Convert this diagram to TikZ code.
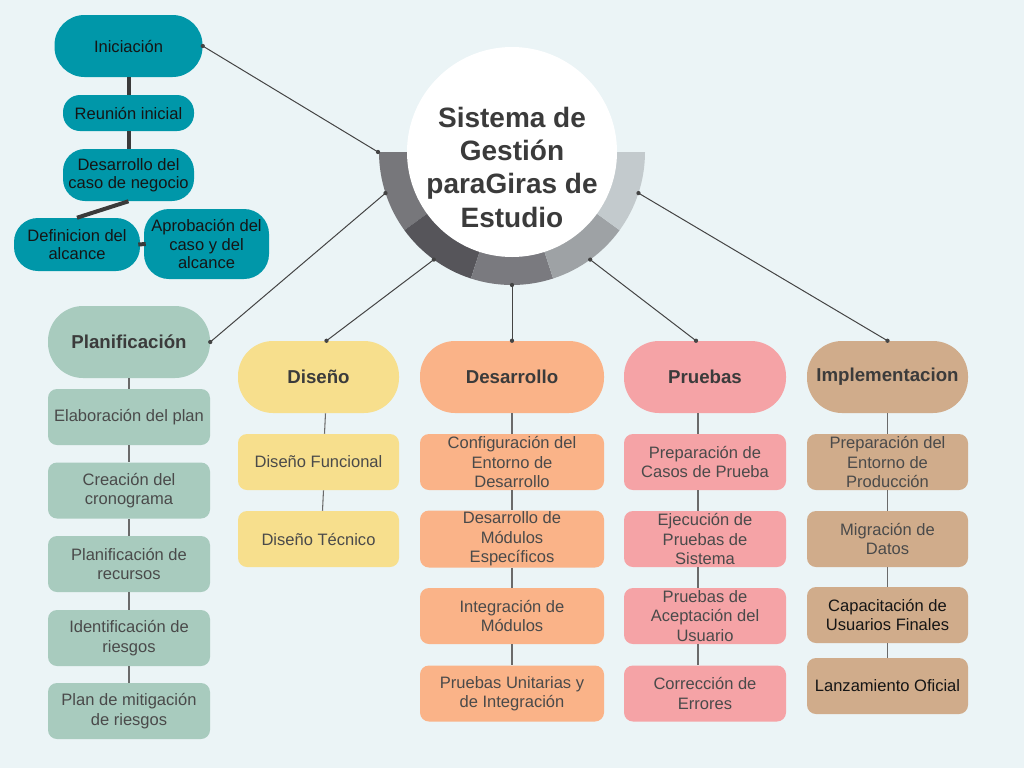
\documentclass[tikz,border=0pt]{standalone}
\usepackage{fontspec}
\setmainfont{Liberation Sans}
\newdimen\pxu \pxu=0.75pt
\definecolor{bg}{HTML}{EBF4F6}
\definecolor{teal}{HTML}{0097A9}
\definecolor{plan}{HTML}{A8CBBE}
\definecolor{dise}{HTML}{F7DF8D}
\definecolor{desa}{HTML}{FAB388}
\definecolor{prue}{HTML}{F5A3A6}
\definecolor{impl}{HTML}{D0AC8B}
\definecolor{segA}{HTML}{77777B}
\definecolor{segB}{HTML}{56555A}
\definecolor{segC}{HTML}{7A7A7F}
\definecolor{segD}{HTML}{9EA2A5}
\definecolor{segE}{HTML}{C3CACD}
\definecolor{txtgray}{HTML}{4A4A4A}
\definecolor{txtdark}{HTML}{151515}
\definecolor{headtxt}{HTML}{3B3B3B}
\definecolor{linec}{HTML}{444444}
\definecolor{subline}{HTML}{6A6A6A}
\definecolor{thick}{HTML}{3A3A3A}
\newcommand\subfont{\fontsize{12.4}{14.6}\selectfont}
\newcommand\tealfont{\fontsize{12.4}{13.8}\selectfont}
\newcommand\headfont{\fontsize{14}{17}\selectfont\bfseries}
\newcommand\titlefont{\fontsize{21}{25}\selectfont\bfseries}
\begin{document}
\begin{tikzpicture}[x=0.75pt,y=-0.75pt,
  tealbox/.style={rectangle, fill=teal, align=center, inner sep=1pt, font=\tealfont, text=txtdark},
  subbox/.style={rectangle, rounded corners=9\pxu, minimum height=56\pxu, align=center, inner sep=1pt, font=\subfont, text=txtgray},
  pill/.style={rectangle, rounded corners=35\pxu, minimum height=72\pxu, align=center, inner sep=1pt, font=\headfont, text=headtxt},
  main/.style={draw=linec, line width=0.75pt},
  enddot/.style={fill=linec},
  sub/.style={draw=subline, line width=0.8pt},
  thickline/.style={draw=thick, line width=3pt}
]
\useasboundingbox (0,0) rectangle (1024,768);
\fill[bg] (0,0) rectangle (1024,768);

% ---- central ring and circle
\coordinate (c) at (512,152);
\fill[segA] (c) -- ++(180:99.75pt) arc[start angle=180,end angle=216,radius=99.75pt] -- cycle;
\fill[segB] (c) -- ++(216:99.75pt) arc[start angle=216,end angle=252,radius=99.75pt] -- cycle;
\fill[segC] (c) -- ++(252:99.75pt) arc[start angle=252,end angle=288,radius=99.75pt] -- cycle;
\fill[segD] (c) -- ++(288:99.75pt) arc[start angle=288,end angle=324,radius=99.75pt] -- cycle;
\fill[segE] (c) -- ++(324:99.75pt) arc[start angle=324,end angle=360,radius=99.75pt] -- cycle;
\fill[white] (c) circle[radius=78.75pt];
\node[font=\titlefont, text=headtxt, align=center] (title) at (512,167) {Sistema de\\Gestión\\paraGiras de\\Estudio};

\coordinate (r0) at ([shift={(c)}]180:100.5pt);
\coordinate (r1) at ([shift={(c)}]198:99.75pt);
\coordinate (r2) at ([shift={(c)}]234:99.75pt);
\coordinate (r3) at ([shift={(c)}]270:99.75pt);
\coordinate (r4) at ([shift={(c)}]306:99.75pt);
\coordinate (r5) at ([shift={(c)}]342:99.75pt);

% ---- Iniciacion cluster
\node[tealbox, rounded corners=30\pxu, minimum width=148\pxu, minimum height=62\pxu] (ini) at (128.5,46) {Iniciación};
\node[tealbox, rounded corners=17\pxu, minimum width=131\pxu, minimum height=36\pxu] (reu) at (128.5,113) {Reunión inicial};
\node[tealbox, rounded corners=22\pxu, minimum width=131\pxu, minimum height=52\pxu] (dcn) at (128.5,175) {Desarrollo del\\caso de negocio};
\node[tealbox, rounded corners=24\pxu, minimum width=126\pxu, minimum height=53\pxu] (def) at (77,244.5) {Definicion del\\alcance};
\node[tealbox, rounded corners=25\pxu, minimum width=125\pxu, minimum height=70\pxu] (apr) at (206.5,244) {Aprobación del\\caso y del\\alcance};
\draw[thickline] (ini.south) -- (reu.north);
\draw[thickline] (reu.south) -- (dcn.north);
\draw[thickline] (dcn.south) -- (def.north);
\draw[thickline] ([xshift=-2\pxu]def.east) -- ([xshift=2\pxu]apr.west);

% ---- Planificacion
\node[pill, fill=plan, minimum width=162\pxu] (pla) at (129,342) {Planificación};
\node[subbox, fill=plan, minimum width=162\pxu] (pl1) at (129,417) {Elaboración del plan};
\node[subbox, fill=plan, minimum width=162\pxu] (pl2) at (129,490.5) {Creación del\\cronograma};
\node[subbox, fill=plan, minimum width=162\pxu] (pl3) at (129,564) {Planificación de\\recursos};
\node[subbox, fill=plan, minimum width=162\pxu] (pl4) at (129,638) {Identificación de\\riesgos};
\node[subbox, fill=plan, minimum width=162\pxu] (pl5) at (129,711) {Plan de mitigación\\de riesgos};
\draw[sub] (pla.south) -- (pl1.north);
\draw[sub] (pl1.south) -- (pl2.north);
\draw[sub] (pl2.south) -- (pl3.north);
\draw[sub] (pl3.south) -- (pl4.north);
\draw[sub] (pl4.south) -- (pl5.north);

% ---- Diseno
\node[pill, fill=dise, minimum width=161\pxu] (dis) at (318.5,377) {Diseño};
\node[subbox, fill=dise, minimum width=161\pxu] (ds1) at (318.5,462) {Diseño Funcional};
\node[subbox, fill=dise, minimum width=161\pxu] (ds2) at (318.5,539) {Diseño Técnico};
\draw[sub] ([xshift=7\pxu]dis.south) -- ([xshift=6\pxu]ds1.north);
\draw[sub] ([xshift=5\pxu]ds1.south) -- ([xshift=4\pxu]ds2.north);

% ---- Desarrollo
\node[pill, fill=desa, minimum width=184\pxu] (dev) at (512,377) {Desarrollo};
\node[subbox, fill=desa, minimum width=184\pxu] (dv1) at (512,462) {Configuración del\\Entorno de\\Desarrollo};
\node[subbox, fill=desa, minimum width=184\pxu] (dv2) at (512,539) {Desarrollo de\\Módulos\\Específicos};
\node[subbox, fill=desa, minimum width=184\pxu] (dv3) at (512,616) {Integración de\\Módulos};
\node[subbox, fill=desa, minimum width=184\pxu] (dv4) at (512,693.5) {Pruebas Unitarias y\\de Integración};
\draw[sub] (dev.south) -- (dv1.north);
\draw[sub] (dv1.south) -- (dv2.north);
\draw[sub] (dv2.south) -- (dv3.north);
\draw[sub] (dv3.south) -- (dv4.north);

% ---- Pruebas
\node[pill, fill=prue, minimum width=162\pxu] (pru) at (705,377) {Pruebas};
\node[subbox, fill=prue, minimum width=162\pxu] (pr1) at (705,462) {Preparación de\\Casos de Prueba};
\node[subbox, fill=prue, minimum width=162\pxu] (pr2) at (705,539) {Ejecución de\\Pruebas de\\Sistema};
\node[subbox, fill=prue, minimum width=162\pxu] (pr3) at (705,616) {Pruebas de\\Aceptación del\\Usuario};
\node[subbox, fill=prue, minimum width=162\pxu] (pr4) at (705,693.5) {Corrección de\\Errores};
\draw[sub] ([xshift=-7\pxu]pru.south) -- ([xshift=-7\pxu]pr1.north);
\draw[sub] ([xshift=-7\pxu]pr1.south) -- ([xshift=-7\pxu]pr2.north);
\draw[sub] ([xshift=-7\pxu]pr2.south) -- ([xshift=-7\pxu]pr3.north);
\draw[sub] ([xshift=-7\pxu]pr3.south) -- ([xshift=-7\pxu]pr4.north);

% ---- Implementacion
\node[pill, fill=impl, minimum width=161\pxu] (imp) at (887.5,377) {Implementacion};
\node[subbox, fill=impl, minimum width=161\pxu] (im1) at (887.5,462) {Preparación del\\Entorno de\\Producción};
\node[subbox, fill=impl, minimum width=161\pxu] (im2) at (887.5,539) {Migración de\\Datos};
\node[subbox, fill=impl, minimum width=161\pxu, text=txtdark] (im3) at (887.5,615) {Capacitación de\\Usuarios Finales};
\node[subbox, fill=impl, minimum width=161\pxu, text=txtdark] (im4) at (887.5,686) {Lanzamiento Oficial};
\draw[sub] (imp.south) -- (im1.north);
\draw[sub] (im1.south) -- (im2.north);
\draw[sub] (im2.south) -- (im3.north);
\draw[sub] (im3.south) -- (im4.north);

% ---- main connectors
\coordinate (s0) at (ini.east);
\coordinate (s1) at (pla.east);
\coordinate (s2) at ([xshift=8\pxu]dis.north);
\coordinate (s3) at (dev.north);
\coordinate (s4) at ([xshift=-9\pxu]pru.north);
\coordinate (s5) at (imp.north);
\foreach \i in {0,...,5} {
  \draw[main] (s\i) -- (r\i);
  \fill[enddot] (s\i) circle[radius=1.6pt];
  \fill[enddot] (r\i) circle[radius=1.6pt];
}
\end{tikzpicture}
\end{document}
